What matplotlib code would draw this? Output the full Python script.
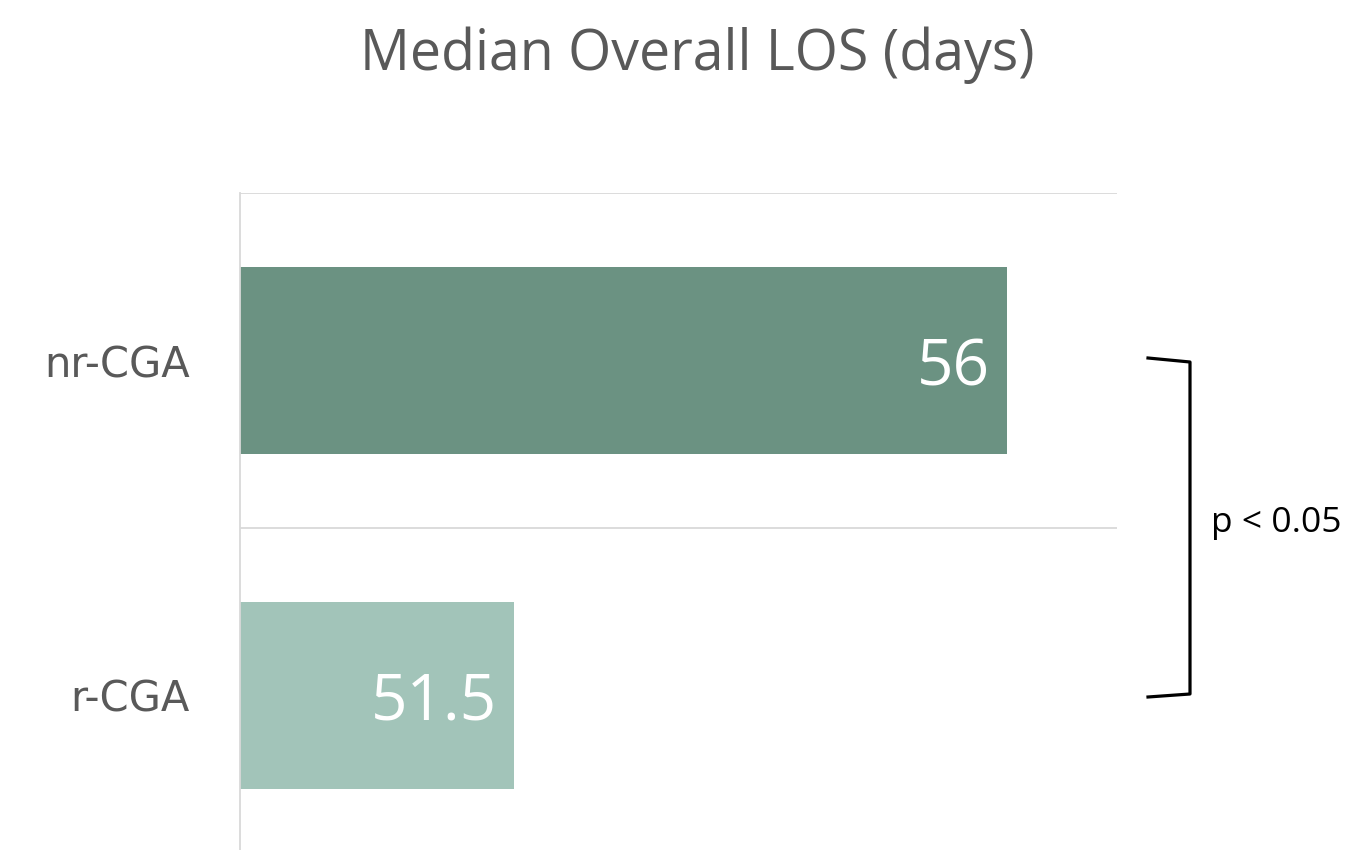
import matplotlib
matplotlib.use("Agg")
import matplotlib.pyplot as plt

groups = ["nr-CGA", "r-CGA"]
los = [56, 51.5]
bar_labels = ["56", "51.5"]
colors = ["#6B9282", "#A2C4B9"]

plt.rcParams['font.family'] = ['Open Sans', 'DejaVu Sans']

fig = plt.figure(figsize=(13.49, 8.5), dpi=100)
# axes runs a little past the bottom edge, like the cropped original
ax = fig.add_axes([240/1349, -13/850, 877/1349, 670/850])

ypos = [0, 1]
ax.barh(ypos, los, height=0.56, color=colors, left=0)
ax.set_xlim(49, 57)
ax.set_ylim(1.5, -0.5)

for y, v, lab in zip(ypos, los, bar_labels):
    ax.text(v - 0.16, y, lab, ha='right', va='center_baseline', color='white', fontsize=46)

# category boundary gridlines
for b in [-0.5, 0.5, 1.5]:
    ax.axhline(b, color='#D9D9D9', lw=1.3, zorder=0)

ax.set_yticks(ypos)
ax.set_yticklabels(groups, fontsize=30, color='#595959', family='DejaVu Sans')
ax.tick_params(axis='y', length=0, pad=36)
ax.set_xticks([])
for s in ['top', 'right', 'bottom']:
    ax.spines[s].set_visible(False)
ax.spines['left'].set_color('#D9D9D9')
ax.spines['left'].set_linewidth(1.3)

fig.text(697/1349, 1 - 55/850, "Median Overall LOS (days)", ha='center', va='center',
         fontsize=40, color='#595959')

# significance bracket
bx = [1148/1349, 1190/1349, 1190/1349, 1148/1349]
by = [1 - 358/850, 1 - 362/850, 1 - 694/850, 1 - 697/850]
fig.lines.append(plt.Line2D(bx, by, transform=fig.transFigure, color='black', lw=2.3,
                            solid_joinstyle='round'))
fig.text(1211/1349, 1 - 523/850, "p < 0.05", ha='left', va='center', fontsize=25.5, color='black')

fig.savefig("out.png", dpi=100)
